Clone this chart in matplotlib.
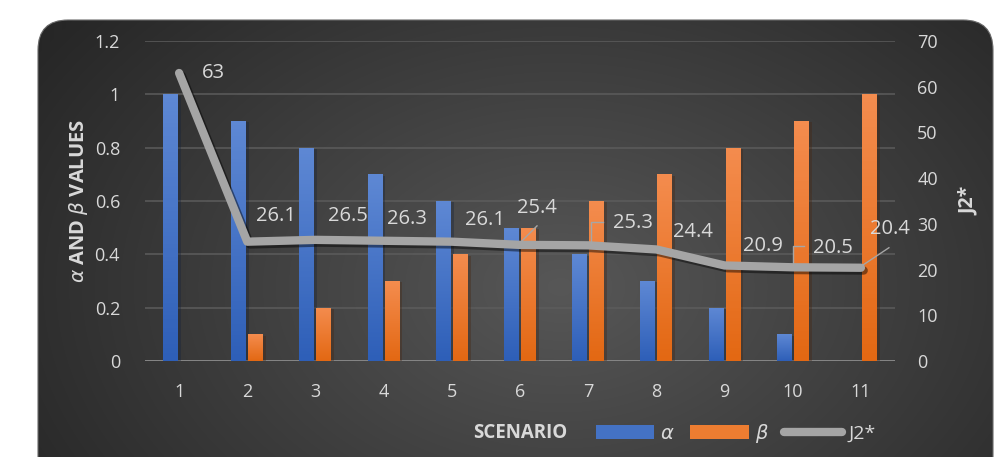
import numpy as np
import matplotlib
matplotlib.use("Agg")
import matplotlib.pyplot as plt
from matplotlib.patches import FancyBboxPatch, Patch
from matplotlib.lines import Line2D
from matplotlib.colors import LinearSegmentedColormap
import matplotlib.patheffects as pe

plt.rcParams['font.family'] = ['Open Sans', 'DejaVu Sans']

# data
scenarios = [1, 2, 3, 4, 5, 6, 7, 8, 9, 10, 11]
alpha_vals = [1.0, 0.9, 0.8, 0.7, 0.6, 0.5, 0.4, 0.3, 0.2, 0.1, 0.0]
beta_vals = [0.0, 0.1, 0.2, 0.3, 0.4, 0.5, 0.6, 0.7, 0.8, 0.9, 1.0]
j2_vals = [63, 26.1, 26.5, 26.3, 26.1, 25.4, 25.3, 24.4, 20.9, 20.5, 20.4]
j2_labels = ["63", "26.1", "26.5", "26.3", "26.1", "25.4", "25.3", "24.4", "20.9", "20.5", "20.4"]

# label placement, pixel offsets from each point
lab_off = [(34, 0), (29, 26), (32, 24), (23, 22), (33, 22), (17, 37),
           (45, 22), (37, 17), (38, 19), (40, 19), (29, 39)]
# leader lines (index -> pixel offsets)
leaders = {5: [(0, 2), (17, 19)],
           6: [(3, 2), (3, 23), (15, 23)],
           9: [(0, 2), (0, 21), (11, 21)],
           10: [(1, 2), (28, 20)]}

TXT = '#D9D9D9'
W, H = 997, 457

fig = plt.figure(figsize=(W / 100, H / 100), dpi=100)
fig.patch.set_facecolor('white')

# card background with radial gradient
bg = fig.add_axes([0, 0, 1, 1], zorder=0)
bg.set_xlim(0, W)
bg.set_ylim(0, H)
bg.axis('off')
xx, yy = np.meshgrid(np.arange(W) + 0.5, np.arange(H) + 0.5)
t = np.sqrt(((xx - 560) / 620) ** 2 + ((yy - 170) / 430) ** 2)
t = np.clip(t, 0, 1)
g = (0x57 + (0x27 - 0x57) * t) / 255.0
img = np.dstack([g, g, g])
card = FancyBboxPatch((38, -60), 955, 497, boxstyle="round,pad=0,rounding_size=30",
                      facecolor='none', edgecolor='#6a6a6a', lw=0.8)
bg.add_patch(card)
im = bg.imshow(img, extent=(0, W, 0, H), origin='lower', aspect='auto')
im.set_clip_path(card)

ax = fig.add_axes([145 / W, 1 - 361 / H, (895 - 145) / W, (361 - 41) / H], zorder=1)
ax.patch.set_alpha(0)
ax2 = ax.twinx()
ax2.patch.set_alpha(0)

x = np.array(scenarios)
bw = 0.22
blue_cm = LinearSegmentedColormap.from_list('b', ['#2E5FB8', '#5E88D4'])
orange_cm = LinearSegmentedColormap.from_list('o', ['#E36813', '#F48C4E'])
grad = np.linspace(0, 1, 64).reshape(-1, 1)

shadow = [pe.SimplePatchShadow(offset=(2, -1), alpha=0.35), pe.Normal()]
b1 = ax.bar(x - 0.125, alpha_vals, bw, color='#4472C4', zorder=2, path_effects=shadow)
b2 = ax.bar(x + 0.125, beta_vals, bw, color='#ED7D31', zorder=2, path_effects=shadow)
for bars, cm in ((b1, blue_cm), (b2, orange_cm)):
    for r in bars:
        if r.get_height() <= 0:
            continue
        x0, y0 = r.get_x(), r.get_y()
        gi = ax.imshow(grad, extent=(x0, x0 + r.get_width(), y0, y0 + r.get_height()),
                       origin='lower', aspect='auto', cmap=cm, zorder=2.1)
        gi.set_clip_path(r)

ax.set_xlim(0.5, 11.5)
ax.set_ylim(0, 1.2)
ax.set_yticks(np.arange(0, 1.21, 0.2))
ax.set_yticklabels(['0', '0.2', '0.4', '0.6', '0.8', '1', '1.2'])
ax.set_xticks(x)
ax.set_xticklabels([str(s) for s in scenarios])
ax.grid(axis='y', color='#5c5c5c', lw=1.1, zorder=0)
ax.set_axisbelow(True)
ax.axhline(0, color='#8a8a8a', lw=2, zorder=1.5)
for sp in ax.spines.values():
    sp.set_visible(False)
for sp in ax2.spines.values():
    sp.set_visible(False)
ax.tick_params(axis='both', length=0, colors=TXT, labelsize=13)
ax.tick_params(axis='y', pad=18)
ax.tick_params(axis='x', pad=16)

ax2.set_ylim(0, 70)
ax2.set_yticks(np.arange(0, 71, 10))
ax2.tick_params(axis='y', length=0, colors=TXT, labelsize=13, pad=16)

ax2.plot(x, j2_vals, color='#A5A5A5', lw=6, solid_capstyle='round', solid_joinstyle='round',
         zorder=3, path_effects=[pe.SimpleLineShadow(offset=(2, -2), alpha=0.45), pe.Normal()])

for i, (xi, v) in enumerate(zip(x, j2_vals)):
    ax2.annotate(j2_labels[i], (xi, v), xytext=lab_off[i], textcoords='offset pixels',
                 ha='center', va='center', color=TXT, fontsize=14.5, zorder=4)

# leader lines drawn in pixel space
for i, pts in leaders.items():
    px, py = ax2.transData.transform((x[i], j2_vals[i]))
    xs = [px + dx for dx, dy in pts]
    ys = [py + dy for dx, dy in pts]
    fig.add_artist(Line2D(xs, ys, transform=None, color='#A6A6A6', lw=1, zorder=5))

ax.set_ylabel(r'$\alpha$ AND $\beta$ VALUES', color=TXT, fontsize=14.5, fontweight='bold', labelpad=3)
ax2.set_ylabel('J2*', color=TXT, fontsize=14, fontweight='bold', labelpad=15)
ax.set_xlabel('SCENARIO', color=TXT, fontsize=13.5, fontweight='bold', labelpad=16)

handles = [Patch(facecolor='#4472C4'), Patch(facecolor='#ED7D31'),
           Line2D([], [], color='#A5A5A5', lw=6, solid_capstyle='round')]
fig.legend(handles, [r'$\alpha$', r'$\beta$', 'J2*'], loc='center', bbox_to_anchor=(0.738, 0.052),
           ncol=3, frameon=False, fontsize=14, labelcolor=TXT, handlelength=3.0,
           handleheight=0.8, handletextpad=0.3, columnspacing=0.8)

fig.savefig('out.png', dpi=100)
